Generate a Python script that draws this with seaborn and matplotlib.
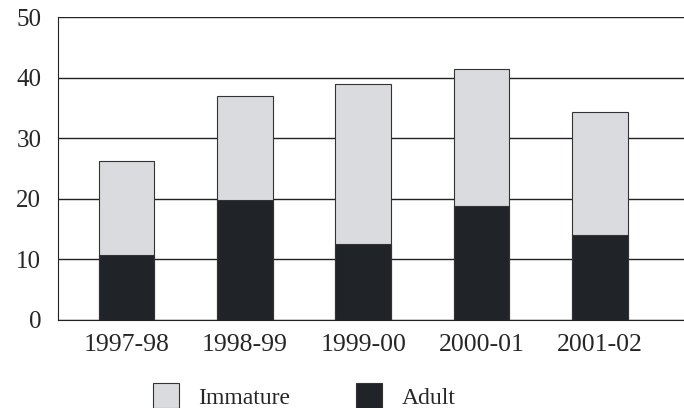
import numpy as np
import pandas as pd
import seaborn as sns
import matplotlib.pyplot as plt
from matplotlib.patches import Patch

seasons = ['1997-98', '1998-99', '1999-00', '2000-01', '2001-02']
adult = [10.7, 19.8, 12.5, 18.8, 14.0]
immature = [15.5, 17.1, 26.4, 22.7, 20.3]

light = '#d9dbdf'
dark = '#202428'

df = pd.DataFrame({'season': seasons, 'adult': adult, 'immature': immature})
df['total'] = df['adult'] + df['immature']

sns.set_style('white')
plt.rcParams['font.family'] = ['Liberation Serif', 'DejaVu Serif']

fig = plt.figure(figsize=(6.84, 4.08), dpi=100)
ax = fig.add_axes([58/684, 1-320/408, 1-58/684, 303/408])

sns.barplot(data=df, x='season', y='total', color=light, saturation=1,
            width=0.47, edgecolor='#333333', linewidth=0.8, ax=ax, zorder=3)
sns.barplot(data=df, x='season', y='adult', color=dark, saturation=1,
            width=0.47, edgecolor='#333333', linewidth=0.8, ax=ax, zorder=3)

ax.set_ylim(0, 50)
ax.set_xlim(-0.58, 4.71)
ax.set_yticks([0, 10, 20, 30, 40, 50])
ax.yaxis.grid(True, color='#222222', linewidth=1.0)
ax.set_axisbelow(True)
ax.set_xlabel('')
ax.set_ylabel('')
for s in ['top', 'right']:
    ax.spines[s].set_visible(False)
ax.spines['left'].set_color('#222222')
ax.spines['bottom'].set_color('#222222')
ax.tick_params(axis='y', direction='out', length=8, color='#222222',
               labelsize=18, pad=4)
ax.tick_params(axis='x', length=0, labelsize=18.5, pad=10)

handles = [Patch(facecolor=light, edgecolor='#333333', linewidth=0.8, label='Immature'),
           Patch(facecolor=dark, edgecolor='#333333', linewidth=0.8, label='Adult')]
fig.legend(handles=handles, loc='center left', bbox_to_anchor=(144/684, 1-396/408),
           ncol=2, frameon=False, fontsize=17, handlelength=1.1, handleheight=1.2,
           handletextpad=0.8, columnspacing=2.8, borderaxespad=0)

fig.savefig('out.png', dpi=100)
